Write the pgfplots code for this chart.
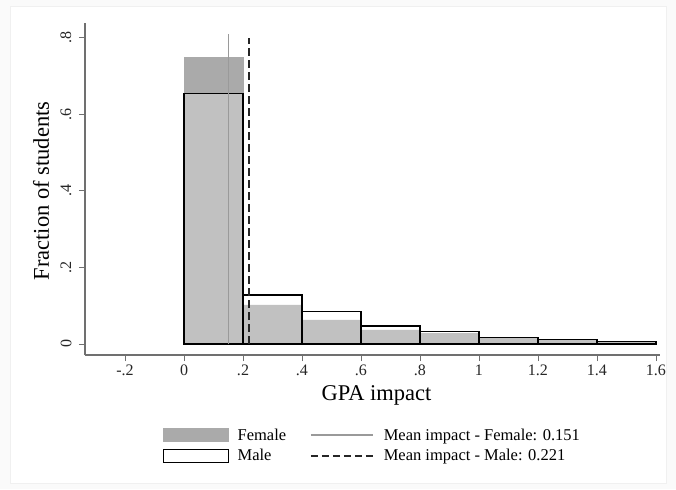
\documentclass[border=0pt]{standalone}
\usepackage{pgfplots}
\pgfplotsset{compat=1.18}
\usepackage{fontspec}
\setmainfont{Liberation Serif}
\definecolor{femfill}{HTML}{AAAAAA}
\definecolor{axgray}{HTML}{707070}
\definecolor{meanf}{HTML}{9A9A9A}
\begin{document}
\begin{tikzpicture}[x=1pt,y=1pt]
\useasboundingbox (-85,-134) rectangle (591,355);
\fill[black!2] (-85,-134) rectangle (591,355);
\filldraw[fill=white, draw=black!6] (-75,-128) rectangle (581,349);
\begin{axis}[
  at={(0,0)}, anchor=south west,
  scale only axis, width=575pt, height=332pt,
  xmin=-0.3356, xmax=1.6136, ymin=-0.0288, ymax=0.839,
  axis x line*=bottom, axis y line*=left,
  axis line style={-, axgray, line width=1.1pt},
  tick style={axgray, line width=0.9pt},
  major tick length=6pt, tick align=outside,
  xtick={-0.2,0,0.2,0.4,0.6,0.8,1,1.2,1.4,1.6},
  xticklabels={-.2,0,.2,.4,.6,.8,1,1.2,1.4,1.6},
  ytick={0,0.2,0.4,0.6,0.8},
  yticklabels={0,.2,.4,.6,.8},
  ticklabel style={font=\fontsize{16}{18}\selectfont, text=black!85},
  yticklabel style={rotate=90, anchor=south},
  yticklabel shift=4pt,
  xlabel={GPA impact},
  ylabel={Fraction of students},
  xlabel style={font=\fontsize{22.5}{24}\selectfont, at={(axis description cs:0.507,0)}, anchor=center, yshift=-40pt},
  ylabel style={font=\fontsize{22.5}{24}\selectfont, at={(axis description cs:-0.0765,0.494)}, anchor=center},
  legend style={at={(axis description cs:0.13,-0.209)}, anchor=north west, draw=none, fill=none,
    font=\fontsize{16.5}{18}\selectfont, row sep=4pt,
    /tikz/every even column/.append style={column sep=22pt}},
  legend columns=2, legend cell align=left,
]
\addplot[ybar interval, fill=femfill, draw=femfill, forget plot] coordinates {
(0,0.750) (0.2,0.102) (0.4,0.063) (0.6,0.037) (0.8,0.028) (1.0,0.014) (1.2,0.009) (1.4,0.005) (1.6,0.005)};
\addplot[ybar interval, fill=white, fill opacity=0.28, draw=black, line width=1.3pt, forget plot] coordinates {
(0,0.654) (0.2,0.128) (0.4,0.084) (0.6,0.047) (0.8,0.032) (1.0,0.017) (1.2,0.012) (1.4,0.007) (1.6,0.007)};
\addplot[meanf, line width=1.3pt, forget plot] coordinates {(0.151,0) (0.151,0.81)};
\addplot[black!85, line width=1.5pt, dash pattern=on 8pt off 4pt, forget plot] coordinates {(0.221,0) (0.221,0.80)};
\addlegendimage{legend image code/.code={\fill[femfill] (0pt,-6.5pt) rectangle (65pt,6.5pt); \path[draw=none] (0pt,0pt) -- (72pt,0pt);}}
\addlegendentry{Female}
\addlegendimage{legend image code/.code={\draw[meanf, line width=1.3pt] (0pt,0pt) -- (62pt,0pt); \path[draw=none] (0pt,0pt) -- (71pt,0pt);}}
\addlegendentry{Mean impact - Female: 0.151}
\addlegendimage{legend image code/.code={\draw[black, line width=1.3pt, fill=white] (0pt,-6.5pt) rectangle (65pt,6.5pt); \path[draw=none] (0pt,0pt) -- (72pt,0pt);}}
\addlegendentry{Male}
\addlegendimage{legend image code/.code={\draw[black!85, line width=1.3pt, dash pattern=on 7pt off 4pt] (0pt,0pt) -- (62pt,0pt); \path[draw=none] (0pt,0pt) -- (71pt,0pt);}}
\addlegendentry{Mean impact - Male: 0.221}
\end{axis}
\end{tikzpicture}
\end{document}
